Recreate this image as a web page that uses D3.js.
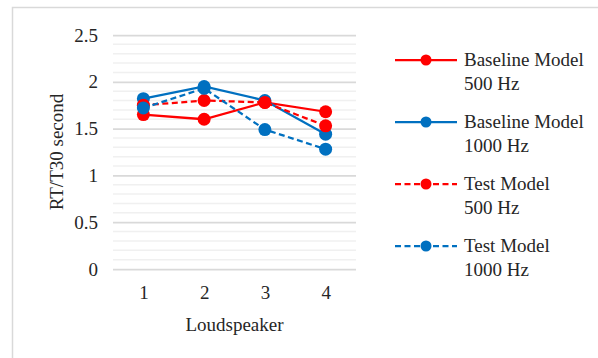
<!DOCTYPE html>
<html>
  <head>
    <meta charset="utf-8">
    <title>RT/T30 by loudspeaker</title>
    <script src="https://d3js.org/d3.v7.min.js"></script>
    <style>
      body { margin: 0; background: #fff; }
      svg text { font-family: "Liberation Serif", "Times New Roman", serif; fill: #262626; }
    </style>
  </head>
  <body>
    <svg id="chart" width="598" height="358"></svg>
    <script>
      // chart data
      var speakers = ["1", "2", "3", "4"];
      var yTicks = [0, 0.5, 1, 1.5, 2, 2.5];
      var seriesNames = ["Baseline Model", "Baseline Model", "Test Model", "Test Model"];
      var seriesFreqs = ["500 Hz", "1000 Hz", "500 Hz", "1000 Hz"];
      var baseline500 = [1.65, 1.60, 1.78, 1.68];
      var baseline1000 = [1.82, 1.95, 1.80, 1.44];
      var test500 = [1.75, 1.80, 1.78, 1.53];
      var test1000 = [1.72, 1.93, 1.49, 1.28];

      var series = [
        { name: seriesNames[0], freq: seriesFreqs[0], values: baseline500, color: "#FF0000", dashed: false },
        { name: seriesNames[1], freq: seriesFreqs[1], values: baseline1000, color: "#0070C0", dashed: false },
        { name: seriesNames[2], freq: seriesFreqs[2], values: test500, color: "#FF0000", dashed: true },
        { name: seriesNames[3], freq: seriesFreqs[3], values: test1000, color: "#0070C0", dashed: true }
      ];

      var svg = d3.select("#chart");
      var plot = { left: 113, right: 356, top: 35, bottom: 269 };
      var fontSize = 19;

      // chart area border (runs off the right and bottom edges)
      svg.append("rect")
        .attr("x", 12.5)
        .attr("y", 7.5)
        .attr("width", 620)
        .attr("height", 380)
        .attr("fill", "none")
        .attr("stroke", "#D9D9D9")
        .attr("stroke-width", 1.5);

      var x = d3.scalePoint()
        .domain(speakers)
        .range([plot.left, plot.right])
        .padding(0.5);
      var y = d3.scaleLinear()
        .domain([0, 2.5])
        .range([plot.bottom, plot.top]);

      // minor gridlines every 0.1
      svg.append("g")
        .selectAll("line")
          .data(d3.range(0, 26).map(function(d) { return d / 10; })
            .filter(function(d) { return Math.round(d * 10) % 5 != 0; }))
        .enter().append("line")
          .attr("x1", plot.left)
          .attr("x2", plot.right)
          .attr("y1", function(d) { return y(d); })
          .attr("y2", function(d) { return y(d); })
          .attr("stroke", "#F0F0F0")
          .attr("stroke-width", 1.5);

      // major gridlines and y labels
      var yAxis = svg.append("g")
        .attr("transform", "translate(" + plot.left + ",0)")
        .call(d3.axisLeft(y)
          .tickValues(yTicks)
          .tickSize(-(plot.right - plot.left))
          .tickPadding(15)
          .tickFormat(d3.format("")));
      yAxis.select(".domain").remove();
      yAxis.selectAll(".tick line")
        .attr("stroke", "#D9D9D9")
        .attr("stroke-width", 1.75);
      yAxis.selectAll(".tick text")
        .attr("font-size", fontSize)
        .attr("fill", "#262626");

      // x labels
      var xAxis = svg.append("g")
        .attr("transform", "translate(0," + plot.bottom + ")")
        .call(d3.axisBottom(x).tickSize(0).tickPadding(17));
      xAxis.select(".domain").remove();
      xAxis.selectAll(".tick text")
        .attr("font-size", fontSize)
        .attr("fill", "#262626");

      // axis titles
      svg.append("text")
        .attr("x", (plot.left + plot.right) / 2)
        .attr("y", 331)
        .attr("text-anchor", "middle")
        .attr("font-size", fontSize)
        .text("Loudspeaker");
      svg.append("text")
        .attr("transform", "translate(63," + ((plot.top + plot.bottom) / 2) + ") rotate(-90)")
        .attr("text-anchor", "middle")
        .attr("font-size", fontSize)
        .text("RT/T30 second");

      // series lines and markers
      var line = d3.line()
        .x(function(d, i) { return x(speakers[i]); })
        .y(function(d) { return y(d); });
      series.forEach(function(s) {
        var g = svg.append("g");
        g.append("path")
          .attr("d", line(s.values))
          .attr("fill", "none")
          .attr("stroke", s.color)
          .attr("stroke-width", 2.25)
          .attr("stroke-dasharray", s.dashed ? "6,3.5" : null);
        g.selectAll("circle")
            .data(s.values)
          .enter().append("circle")
            .attr("cx", function(d, i) { return x(speakers[i]); })
            .attr("cy", function(d) { return y(d); })
            .attr("r", 6.5)
            .attr("fill", s.color);
      });

      // legend
      var legend = svg.append("g")
        .selectAll("g")
          .data(series)
        .enter().append("g")
          .attr("transform", function(d, i) { return "translate(395," + (60 + i * 62) + ")"; });
      legend.append("line")
        .attr("x1", 0)
        .attr("x2", 62)
        .attr("stroke", function(d) { return d.color; })
        .attr("stroke-width", 2.25)
        .attr("stroke-dasharray", function(d) { return d.dashed ? "6,3.5" : null; });
      legend.append("circle")
        .attr("cx", 31)
        .attr("r", 5.5)
        .attr("fill", function(d) { return d.color; });
      legend.append("text")
        .attr("x", 69)
        .attr("y", 0)
        .attr("dy", "0.32em")
        .attr("font-size", fontSize)
        .text(function(d) { return d.name; });
      legend.append("text")
        .attr("x", 69)
        .attr("y", 24)
        .attr("dy", "0.32em")
        .attr("font-size", fontSize)
        .text(function(d) { return d.freq; });
    </script>
  </body>
</html>
